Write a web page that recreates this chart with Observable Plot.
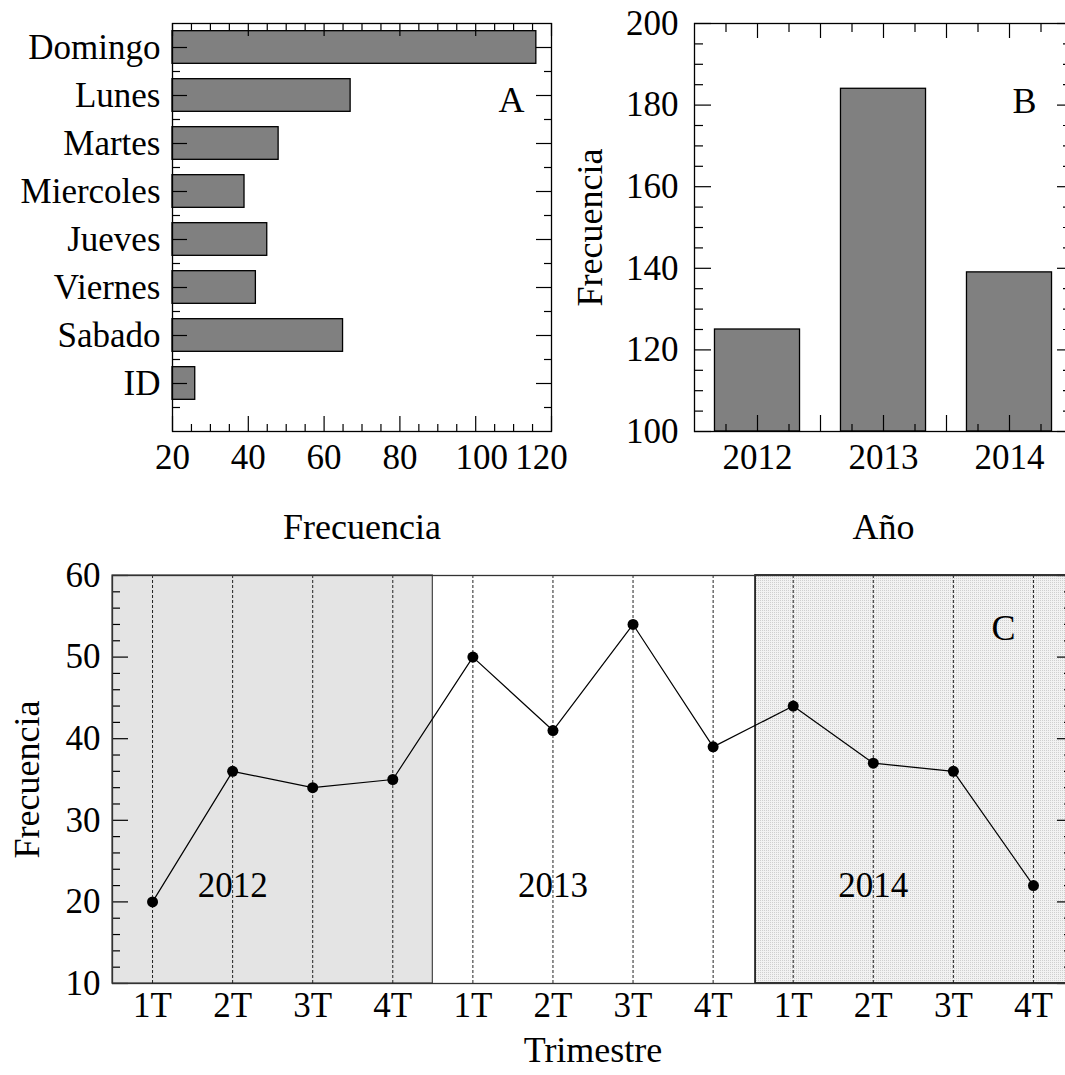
<!DOCTYPE html>
<html><head><meta charset="utf-8">
<script src="https://cdn.jsdelivr.net/npm/d3@7"></script>
<script src="https://cdn.jsdelivr.net/npm/@observablehq/plot@0.6"></script>
<style>
html,body{margin:0;padding:0;background:#fff;overflow:hidden;}
#wrap{position:relative;width:1065px;height:1075px;overflow:hidden;}
#wrap svg{max-width:none !important;}
</style></head><body><div id="wrap"></div><script>
// ---- data ----
const days = ["Domingo","Lunes","Martes","Miercoles","Jueves","Viernes","Sabado","ID"];
const dayCounts = [116,67,48,39,45,42,65,26];
const years = [2012,2013,2014];
const yearCounts = [125,184,139];
const quarterLabels = ["1T","2T","3T","4T","1T","2T","3T","4T","1T","2T","3T","4T"];
const quarterCounts = [20,36,34,35,50,41,54,39,44,37,36,22];
const quarterYears = [2012,2012,2012,2012,2013,2013,2013,2013,2014,2014,2014,2014];
const xTicksA = [20,40,60,80,100,120];
const yTicksB = [100,120,140,160,180,200];
const yTicksC = [10,20,30,40,50,60];
const yearLabelY = 22;

const FONT = "'Liberation Serif','Times New Roman',serif";
const wrap = document.getElementById("wrap");
function place(svg, left, top){ svg.style.position="absolute"; svg.style.left=left+"px"; svg.style.top=top+"px"; svg.style.maxWidth="none"; wrap.appendChild(svg); }
const baseStyle = {fontFamily:FONT, fontSize:"35px", background:"transparent", overflow:"visible", color:"black", maxWidth:"none"};

// ---- Panel A ----
{
const W=560,H=545,ML=172,MR=9,MT=23,MB=114;
const FW=W-ML-MR, FH=H-MT-MB;
const data = days.map((d,i)=>({day:d, count:dayCounts[i], pos: days.length - i}));
const majorX = xTicksA;
const minorX = d3.range(20,121,5).filter(v=>v%20!==0);
const majorY = data.map(d=>d.pos);
const minorY = data.map(d=>d.pos-0.5);
const tk = {stroke:"black", strokeWidth:1.2};
const axA = {anchor:"bottom",tickSize:0,tickPadding:13,label:null,fontSize:35};
const svg = Plot.plot({
  width:W,height:H,marginLeft:ML,marginRight:MR,marginTop:MT,marginBottom:MB,
  style:baseStyle,
  x:{domain:[20,120]}, y:{domain:[0,8.5]},
  marks:[
    Plot.rect(data,{x1:()=>xTicksA[0],x2:"count",y1:d=>d.pos-0.34,y2:d=>d.pos+0.34,fill:"#808080",stroke:"black",strokeWidth:1.3}),
    Plot.tickX(majorX,{x:d=>d,insetBottom:FH-13,...tk}),
    Plot.tickX(minorX,{x:d=>d,insetBottom:FH-7,...tk}),
    Plot.tickX(majorX,{x:d=>d,insetTop:FH-15,...tk}),
    Plot.tickX(minorX,{x:d=>d,insetTop:FH-7,...tk}),
    Plot.tickY(majorY,{y:d=>d,insetRight:FW-15,...tk}),
    Plot.tickY(minorY,{y:d=>d,insetRight:FW-8,...tk}),
    Plot.tickY(majorY,{y:d=>d,insetLeft:FW-15,...tk}),
    Plot.tickY(minorY,{y:d=>d,insetLeft:FW-7,...tk}),
    Plot.frame({stroke:"black",strokeWidth:1.3}),
    Plot.axisX(majorX.slice(0,4),axA),
    Plot.axisX(majorX.slice(4,5),{...axA,dx:6}),
    Plot.axisX(majorX.slice(5),{...axA,dx:-10}),
    Plot.axisY(majorY,{anchor:"left",tickSize:0,tickPadding:12,label:null,fontSize:35,tickFormat:p=>days[days.length-p]}),
    Plot.text(["Frecuencia"],{frameAnchor:"bottom",lineAnchor:"top",dy:82,fontSize:36}),
    Plot.text(["A"],{frameAnchor:"top-right",textAnchor:"middle",lineAnchor:"middle",dx:-40,dy:77,fontSize:36})
  ]
});
place(svg,0,0);
}

// ---- Panel B ----
{
const W=540,H=545,ML=154,MR=8,MT=23,MB=114;
const FW=W-ML-MR, FH=H-MT-MB;
const data = years.map((y,i)=>({year:y,count:yearCounts[i]}));
const majorX = d3.range(2011.5,2014.51,0.5).filter(v=>v>2011.5&&v<2014.5);
const minorX = d3.range(2011.75,2014.5,0.5);
const majorY = yTicksB;
const minorY = d3.range(100,201,5).filter(v=>v%20!==0);
const tk = {stroke:"black", strokeWidth:1.2};
const svg = Plot.plot({
  width:W,height:H,marginLeft:ML,marginRight:MR,marginTop:MT,marginBottom:MB,
  style:baseStyle,
  x:{domain:[2011.5,2014.5]}, y:{domain:[100,200]},
  marks:[
    Plot.rect(data,{x1:d=>d.year-0.3375,x2:d=>d.year+0.3375,y1:()=>yTicksB[0],y2:"count",fill:"#808080",stroke:"black",strokeWidth:1.3}),
    Plot.tickX(majorX,{x:d=>d,insetBottom:FH-15,...tk}),
    Plot.tickX(minorX,{x:d=>d,insetBottom:FH-9,...tk}),
    Plot.tickX(majorX,{x:d=>d,insetTop:FH-16,...tk}),
    Plot.tickX(minorX,{x:d=>d,insetTop:FH-7,...tk}),
    Plot.tickY(majorY,{y:d=>d,insetRight:FW-17,...tk}),
    Plot.tickY(minorY,{y:d=>d,insetRight:FW-9,...tk}),
    Plot.tickY(majorY,{y:d=>d,insetLeft:FW-15,...tk}),
    Plot.tickY(minorY,{y:d=>d,insetLeft:FW-9,...tk}),
    Plot.frame({stroke:"black",strokeWidth:1.3}),
    Plot.axisX(years,{anchor:"bottom",tickSize:0,tickPadding:13,label:null,fontSize:35,tickFormat:d=>String(d)}),
    Plot.axisY(majorY,{anchor:"left",tickSize:0,tickPadding:16,label:null,fontSize:35}),
    Plot.text(["Año"],{frameAnchor:"bottom",lineAnchor:"top",dy:82,fontSize:36}),
    Plot.text(["Frecuencia"],{frameAnchor:"left",rotate:-90,textAnchor:"middle",lineAnchor:"middle",dx:-104,fontSize:36}),
    Plot.text(["B"],{frameAnchor:"top-right",textAnchor:"middle",lineAnchor:"middle",dx:-48,dy:78,fontSize:36})
  ]
});
place(svg,540,0);
}

// ---- Panel C ----
{
const W=1080,H=535,ML=112,MR=7,MT=35,MB=92;
const FW=W-ML-MR, FH=H-MT-MB;
const data = quarterCounts.map((c,i)=>({i, q:quarterLabels[i], year:quarterYears[i], count:c}));
const spans = years.map(y=>{const idx=data.filter(d=>d.year===y).map(d=>d.i);return {year:y,x1:d3.min(idx)-0.5,x2:d3.max(idx)+0.5,mid:(d3.min(idx)+d3.max(idx))/2};});
const majorY = yTicksC;
const minorY = d3.range(10,61,2).filter(v=>v%10!==0);
const tk = {stroke:"black", strokeWidth:1.2};
const svg = Plot.plot({
  width:W,height:H,marginLeft:ML,marginRight:MR,marginTop:MT,marginBottom:MB,
  style:baseStyle,
  x:{domain:[-0.5,11.5]}, y:{domain:[10,60]},
  marks:[
    Plot.rect(spans.filter(s=>s.year===2012),{x1:"x1",x2:"x2",y1:()=>yTicksC[0],y2:()=>yTicksC[yTicksC.length-1],fill:"#e4e4e4",stroke:"#444",strokeWidth:1.2}),
    Plot.rect(spans.filter(s=>s.year===2014),{x1:d=>d.x1+0.03,x2:"x2",y1:()=>yTicksC[0],y2:()=>yTicksC[yTicksC.length-1],fill:"url(#stip)",stroke:"#222",strokeWidth:1.8}),
    Plot.ruleX(data,{x:"i",stroke:"#222",strokeWidth:1,strokeDasharray:"3,2"}),
    Plot.tickY(majorY,{y:d=>d,insetRight:FW-16,...tk}),
    Plot.tickY(minorY,{y:d=>d,insetRight:FW-8,...tk}),
    Plot.tickY(majorY,{y:d=>d,insetLeft:FW-16,...tk}),
    Plot.tickY(minorY,{y:d=>d,insetLeft:FW-9,...tk}),
    Plot.frame({stroke:"#333",strokeWidth:1.3}),
    Plot.line(data,{x:"i",y:"count",stroke:"black",strokeWidth:1.2}),
    Plot.dot(data,{x:"i",y:"count",r:5.5,fill:"black",stroke:"none"}),
    Plot.text(spans,{x:d=>d.mid-0.5,y:()=>yearLabelY,text:d=>String(d.year),fontSize:35,lineAnchor:"middle"}),
    Plot.axisX(data.map(d=>d.i),{anchor:"bottom",tickSize:0,tickPadding:9,label:null,fontSize:35,tickFormat:i=>quarterLabels[i]}),
    Plot.axisY(majorY,{anchor:"left",tickSize:0,tickPadding:12,label:null,fontSize:35}),
    Plot.text(["Trimestre"],{frameAnchor:"bottom",lineAnchor:"top",dy:53,fontSize:36}),
    Plot.text(["Frecuencia"],{frameAnchor:"left",rotate:-90,textAnchor:"middle",lineAnchor:"middle",dx:-85,fontSize:36}),
    Plot.text(["C"],{frameAnchor:"top-right",textAnchor:"middle",lineAnchor:"middle",dx:-70,dy:53,fontSize:36})
  ]
});
const defs = d3.select(svg).insert("defs",":first-child");
const pat = defs.append("pattern").attr("id","stip").attr("patternUnits","userSpaceOnUse").attr("width",2).attr("height",2);
pat.append("rect").attr("width",2).attr("height",2).attr("fill","#f2f2f2");
pat.append("rect").attr("width",1).attr("height",1).attr("fill","#cfcfcf");
place(svg,0,540);
}
</script></body></html>
